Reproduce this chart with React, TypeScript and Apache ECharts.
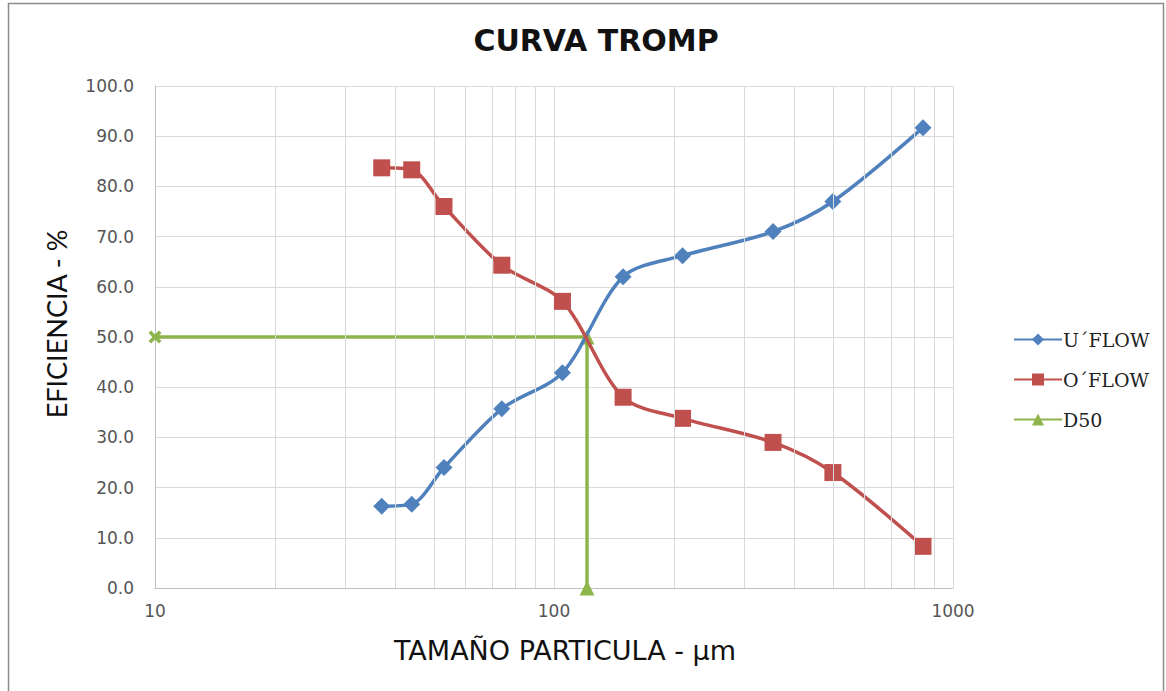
import React, { useEffect, useRef } from "react";
import * as echarts from "echarts";

const sizes = [37, 44, 53, 74, 105, 149, 210, 354, 500, 841];
const uflow = [16.3, 16.7, 24.0, 35.7, 42.9, 62.0, 66.2, 71.0, 77.0, 91.7];
const oflow = [83.7, 83.3, 76.0, 64.3, 57.1, 38.0, 33.8, 29.0, 23.0, 8.3];
const d50Size = 121;
const d50Eff = 50;
const xMinor = [20, 30, 40, 50, 60, 70, 80, 90, 200, 300, 400, 500, 600, 700, 800, 900];

const BLUE = "#4F81BD";
const RED = "#C0504D";
const GREEN = "#8DB54C";
const XMARK = "path://M0,2 L2,0 L5,3 L8,0 L10,2 L7,5 L10,8 L8,10 L5,7 L2,10 L0,8 L3,5 Z";

export default function App() {
  const ref = useRef<HTMLDivElement>(null);
  useEffect(() => {
    const chart = echarts.init(ref.current!, null, { renderer: "svg" });
    const wide = "'DejaVu Sans', sans-serif";
    chart.setOption({
      animation: false,
      backgroundColor: "#ffffff",
      title: {
        text: "CURVA TROMP",
        left: 591,
        textAlign: "center",
        top: 20,
        textStyle: { fontFamily: wide, fontSize: 30, fontWeight: "bold", color: "#111" },
      },
      graphic: [
        {
          type: "rect",
          shape: { x: 8.5, y: 3.5, width: 1155, height: 700 },
          style: { fill: "none", stroke: "#8c8c8c", lineWidth: 1.5 },
          silent: true,
        },
        {
          type: "text",
          x: 56,
          y: 324,
          rotation: Math.PI / 2,
          style: {
            text: "EFICIENCIA - %",
            fontFamily: "Lato, sans-serif",
            fontSize: 27,
            fill: "#111",
            align: "center",
            verticalAlign: "middle",
          },
          silent: true,
        },
        {
          type: "text",
          x: 565,
          y: 650,
          style: {
            text: "TAMAÑO PARTICULA - µm",
            fontFamily: wide,
            fontSize: 27,
            fill: "#111",
            align: "center",
            verticalAlign: "middle",
          },
          silent: true,
        },
      ],
      legend: {
        orient: "vertical",
        left: 1008,
        top: 325,
        itemWidth: 48,
        itemHeight: 15,
        itemGap: 21,
        textStyle: { fontFamily: "'DejaVu Serif', serif", fontSize: 19, color: "#222", padding: [0, 0, 0, -4] },
        data: ["U´FLOW", "O´FLOW", "D50"],
      },
      grid: { left: 155, right: 213, top: 86, bottom: 103 },
      xAxis: {
        type: "log",
        logBase: 10,
        min: 10,
        max: 1000,
        axisLine: { lineStyle: { color: "#bfbfbf", width: 1 } },
        axisTick: { show: false },
        axisLabel: {
          fontFamily: wide,
          fontSize: 17,
          color: "#555",
          margin: 14,
          formatter: (v: number) => String(Math.round(v)),
        },
        splitLine: { show: true, lineStyle: { color: "#d9d9d9", width: 1 } },
      },
      yAxis: {
        type: "value",
        min: 0,
        max: 100,
        interval: 10,
        axisLine: { show: true, lineStyle: { color: "#bfbfbf", width: 1 } },
        axisTick: { show: false },
        axisLabel: {
          fontFamily: wide,
          fontSize: 17,
          color: "#555",
          margin: 21,
          formatter: (v: number) => v.toFixed(1),
        },
        splitLine: { show: true, lineStyle: { color: "#d9d9d9", width: 1 } },
      },
      series: [
        {
          name: "gridMinor",
          type: "line",
          data: [],
          silent: true,
          markLine: {
            silent: true,
            symbol: "none",
            label: { show: false },
            lineStyle: { color: "#d9d9d9", width: 1, type: "solid" },
            emphasis: { disabled: true },
            data: xMinor.map((v) => ({ xAxis: v })),
          },
        },
        {
          name: "D50",
          type: "line",
          data: [
            {
              value: [10, d50Eff],
              symbol: XMARK,
              symbolSize: 13,
            },
            [d50Size, d50Eff],
            [d50Size, 0],
          ],
          symbol: "triangle",
          symbolSize: 15,
          lineStyle: { color: GREEN, width: 3.5 },
          itemStyle: { color: GREEN },
          z: 3,
        },
        {
          name: "U´FLOW",
          type: "line",
          data: sizes.map((s, i) => [s, uflow[i]]),
          smooth: 0.3,
          symbol: "diamond",
          symbolSize: 17,
          lineStyle: { color: BLUE, width: 3.5 },
          itemStyle: { color: BLUE },
          z: 4,
        },
        {
          name: "O´FLOW",
          type: "line",
          data: sizes.map((s, i) => [s, oflow[i]]),
          smooth: 0.3,
          symbol: "rect",
          symbolSize: 17,
          lineStyle: { color: RED, width: 3.5 },
          itemStyle: { color: RED },
          z: 4,
        },
      ],
    });
    return () => chart.dispose();
  }, []);
  return (
    <div
      ref={ref}
      style={{ position: "fixed", left: 0, top: 0, width: 1166, height: 691, background: "#fff" }}
    />
  );
}
